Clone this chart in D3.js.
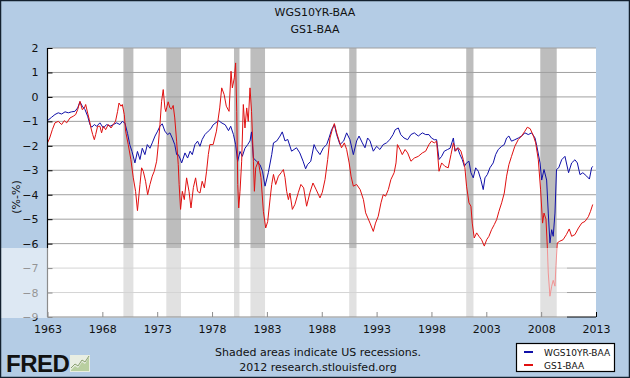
<!DOCTYPE html>
<html><head><meta charset="utf-8">
<script src="https://cdn.jsdelivr.net/npm/d3@7"></script>
<style>html,body{margin:0;padding:0;background:#fff}svg{display:block}</style>
</head><body>
<svg id="c" width="630" height="378"></svg>
<script>
const titleLines = ["WGS10YR-BAA", "GS1-BAA"];
const yTicks = [2, 1, 0, -1, -2, -3, -4, -5, -6, -7, -8, -9];
const xTicks = [1963, 1968, 1973, 1978, 1983, 1988, 1993, 1998, 2003, 2008, 2013];
const recStart = [1969.92, 1973.83, 1980.0, 1981.5, 1990.5, 2001.17, 2007.92];
const recEnd   = [1970.83, 1975.17, 1980.5, 1982.83, 1991.17, 2001.83, 2009.42];

const wgsYears = [1963.0,1963.38,1963.68,1963.98,1964.29,1964.6,1964.9,1965.2,1965.5,1965.75,1965.96,1966.17,1966.42,1966.66,1966.87,1967.03,1967.27,1967.48,1967.78,1968.09,1968.39,1968.7,1969.0,1969.3,1969.6,1969.82,1970.06,1970.3,1970.5,1970.7,1970.97,1971.2,1971.43,1971.64,1971.88,1972.1,1972.34,1972.55,1972.8,1973.04,1973.25,1973.46,1973.7,1973.95,1974.16,1974.37,1974.6,1974.77,1974.92,1975.07,1975.23,1975.38,1975.53,1975.77,1976.0,1976.2,1976.44,1976.68,1976.9,1977.1,1977.35,1977.66,1977.9,1978.1,1978.6,1978.9,1979.2,1979.5,1979.7,1979.95,1980.15,1980.33,1980.55,1980.76,1981.0,1981.25,1981.46,1981.6,1981.77,1982.07,1982.37,1982.6,1982.83,1983.13,1983.44,1983.6,1983.9,1984.2,1984.4,1984.65,1984.9,1985.25,1985.7,1986.0,1986.3,1986.53,1986.7,1987.0,1987.3,1987.5,1987.84,1988.15,1988.45,1988.66,1988.9,1989.15,1989.36,1989.66,1990.0,1990.27,1990.57,1990.88,1991.18,1991.4,1991.7,1991.94,1992.18,1992.4,1992.7,1993.0,1993.3,1993.6,1993.9,1994.2,1994.5,1994.7,1994.98,1995.2,1995.5,1995.83,1996.13,1996.44,1996.8,1997.17,1997.47,1997.77,1998.0,1998.26,1998.47,1998.69,1998.93,1999.17,1999.47,1999.7,2000.0,2000.14,2000.38,2000.6,2000.81,2001.0,2001.2,2001.42,2001.6,2001.81,2002.03,2002.27,2002.5,2002.72,2002.88,2003.1,2003.33,2003.63,2003.85,2004.09,2004.4,2004.64,2004.85,2005.06,2005.3,2005.6,2005.92,2006.22,2006.52,2006.83,2007.13,2007.44,2007.6,2007.9,2008.05,2008.26,2008.5,2008.65,2008.8,2008.96,2009.1,2009.26,2009.4,2009.6,2009.87,2010.17,2010.5,2010.78,2011.08,2011.3,2011.54,2011.8,2012.15,2012.4,2012.6,2012.7];
const wgsValues = [-0.97,-0.83,-0.72,-0.65,-0.7,-0.61,-0.65,-0.61,-0.59,-0.45,-0.2,-0.38,-0.52,-0.79,-1.13,-1.24,-1.13,-1.2,-1.06,-1.27,-1.13,-1.2,-1.13,-1.06,-1.13,-1.0,-1.07,-1.5,-1.95,-2.23,-2.7,-2.23,-2.56,-2.1,-2.36,-1.95,-2.1,-1.88,-1.6,-1.4,-1.2,-1.1,-1.4,-1.54,-1.47,-1.68,-1.95,-2.36,-2.36,-2.5,-2.7,-2.5,-2.29,-2.5,-2.22,-2.36,-1.95,-1.81,-2.02,-1.74,-1.54,-1.4,-1.3,-1.14,-0.97,-1.07,-1.14,-1.38,-1.2,-1.54,-1.95,-2.64,-2.23,-2.43,-2.1,-1.95,-1.8,-1.43,-2.5,-2.64,-2.77,-3.04,-3.65,-3.1,-2.36,-1.88,-1.8,-1.6,-1.43,-1.8,-1.74,-2.22,-2.08,-2.29,-2.63,-2.94,-2.77,-2.63,-1.95,-2.15,-2.36,-2.08,-1.95,-1.68,-1.34,-1.13,-1.54,-1.95,-1.8,-1.47,-1.75,-2.36,-1.8,-1.6,-1.88,-2.08,-1.68,-1.8,-2.22,-2.02,-2.15,-1.95,-1.88,-1.75,-1.54,-1.34,-1.27,-1.54,-1.68,-1.75,-1.54,-1.47,-1.6,-1.47,-1.54,-1.54,-1.68,-1.75,-1.75,-2.56,-2.43,-2.22,-2.15,-2.1,-1.68,-2.22,-2.08,-2.36,-2.56,-2.84,-2.7,-2.63,-3.1,-3.31,-2.9,-3.04,-3.38,-3.79,-3.31,-3.17,-2.9,-2.7,-2.36,-2.15,-2.02,-1.95,-1.68,-1.6,-1.81,-1.75,-1.68,-1.6,-1.47,-1.54,-1.47,-1.68,-2.0,-2.7,-3.4,-2.97,-3.4,-4.75,-5.97,-5.43,-5.7,-4.75,-2.97,-2.9,-2.57,-2.43,-3.1,-2.7,-2.57,-2.7,-3.18,-3.1,-3.24,-3.36,-2.9,-2.84];

const gsYears = [1963.0,1963.2,1963.44,1963.68,1963.98,1964.29,1964.53,1964.75,1965.05,1965.35,1965.57,1965.75,1965.96,1966.17,1966.36,1966.48,1966.66,1966.81,1966.96,1967.12,1967.27,1967.39,1967.57,1967.78,1967.93,1968.09,1968.3,1968.54,1968.79,1969.0,1969.2,1969.39,1969.52,1969.7,1969.82,1970.0,1970.12,1970.36,1970.6,1970.82,1971.03,1971.2,1971.43,1971.58,1971.73,1971.94,1972.13,1972.34,1972.55,1972.73,1972.95,1973.1,1973.25,1973.4,1973.55,1973.7,1973.78,1974.0,1974.16,1974.3,1974.46,1974.6,1974.77,1974.92,1975.0,1975.13,1975.29,1975.47,1975.68,1975.9,1976.08,1976.3,1976.5,1976.68,1976.9,1977.1,1977.3,1977.5,1977.66,1977.8,1978.1,1978.4,1978.7,1978.88,1979.1,1979.3,1979.55,1979.73,1979.85,1980.03,1980.15,1980.25,1980.34,1980.43,1980.55,1980.7,1980.85,1981.0,1981.16,1981.3,1981.46,1981.6,1981.77,1981.86,1981.98,1982.22,1982.46,1982.68,1982.89,1983.07,1983.3,1983.44,1983.6,1983.8,1984.05,1984.3,1984.5,1984.65,1984.8,1984.96,1985.1,1985.32,1985.55,1985.87,1986.1,1986.35,1986.62,1986.93,1987.2,1987.5,1987.84,1988.05,1988.3,1988.54,1988.75,1988.96,1989.15,1989.36,1989.55,1989.8,1990.06,1990.27,1990.5,1990.67,1990.88,1991.18,1991.5,1991.8,1992.0,1992.2,1992.4,1992.7,1992.9,1993.15,1993.4,1993.6,1993.82,1994.07,1994.3,1994.6,1994.77,1994.9,1995.13,1995.34,1995.6,1995.83,1996.13,1996.44,1996.8,1997.17,1997.47,1997.77,1998.0,1998.26,1998.47,1998.69,1998.93,1999.23,1999.53,1999.78,2000.0,2000.2,2000.45,2000.69,2000.9,2001.05,2001.2,2001.42,2001.6,2001.72,2001.9,2002.12,2002.33,2002.57,2002.82,2003.03,2003.24,2003.48,2003.73,2003.94,2004.15,2004.4,2004.64,2004.85,2005.06,2005.3,2005.6,2005.92,2006.22,2006.52,2006.74,2007.0,2007.3,2007.5,2007.74,2007.95,2008.13,2008.26,2008.44,2008.56,2008.65,2008.8,2008.96,2009.1,2009.26,2009.35,2009.47,2009.7,2010.0,2010.3,2010.56,2010.78,2011.08,2011.4,2011.7,2012.0,2012.3,2012.5,2012.7];
const gsValues = [-1.88,-1.68,-1.34,-1.06,-1.0,-1.13,-0.97,-1.06,-0.86,-0.79,-0.72,-0.52,-0.18,-0.52,-0.45,-0.31,-0.66,-0.93,-1.27,-1.54,-1.75,-1.54,-1.2,-1.2,-1.47,-1.2,-1.34,-1.13,-1.27,-1.13,-1.0,-0.59,-0.25,-0.38,-0.31,-0.72,-1.4,-1.95,-2.56,-3.31,-3.86,-4.65,-3.58,-2.9,-3.04,-3.45,-4.0,-3.58,-3.24,-3.04,-2.63,-1.95,-1.13,-0.18,0.3,-0.45,-0.6,-0.2,-0.45,-0.5,-0.35,-0.86,-1.81,-2.77,-3.58,-4.6,-3.86,-4.2,-3.31,-3.86,-4.54,-3.7,-3.31,-3.86,-3.93,-3.45,-3.72,-3.04,-2.36,-1.95,-1.95,-1.4,-0.45,0.37,0.1,-0.38,-0.59,1.05,0.37,0.78,1.39,-0.59,-3.58,-4.54,-3.86,-2.63,-0.31,-1.27,-0.45,-1.0,0.37,-0.59,-2.63,-3.86,-2.9,-2.63,-3.3,-4.68,-5.36,-5.1,-4.13,-3.58,-3.17,-3.58,-3.24,-3.1,-2.97,-3.3,-3.86,-4.2,-3.93,-4.6,-4.4,-3.9,-3.58,-3.72,-4.47,-3.9,-3.52,-3.8,-4.13,-3.9,-3.38,-2.56,-1.68,-1.34,-1.09,-1.47,-1.75,-2.08,-1.88,-2.15,-2.7,-3.24,-3.65,-3.58,-3.79,-4.2,-4.74,-4.95,-5.16,-5.5,-5.16,-4.88,-4.33,-4.0,-4.06,-3.79,-3.38,-3.1,-2.7,-1.95,-2.15,-2.36,-2.15,-2.29,-2.63,-2.5,-2.43,-2.29,-2.22,-1.95,-1.81,-1.88,-1.81,-3.04,-2.7,-2.84,-2.9,-2.36,-1.88,-2.22,-2.08,-2.22,-2.56,-2.9,-3.65,-4.33,-4.47,-5.16,-5.77,-5.56,-5.7,-5.84,-6.1,-5.84,-5.7,-5.43,-5.22,-5.02,-4.68,-4.33,-3.93,-3.24,-2.77,-2.43,-2.02,-1.74,-1.6,-1.4,-1.24,-1.3,-1.6,-1.88,-2.57,-3.8,-5.16,-4.75,-5.0,-6.1,-7.2,-8.15,-7.74,-7.5,-7.74,-6.9,-5.97,-5.9,-5.84,-5.63,-5.4,-5.7,-5.63,-5.36,-5.16,-5.09,-4.9,-4.68,-4.4];

const seriesNames = ["WGS10YR-BAA", "GS1-BAA"];
const seriesColors = ["#1010a8", "#e01010"];
const footnote = ["Shaded areas indicate US recessions.", "2012 research.stlouisfed.org"];

const svg = d3.select("#c");
const W = 630, H = 378;
const FONT = "DejaVu Sans, Verdana, sans-serif";
const L = 47.5, R = 596, T = 48, B = 317;

svg.append("rect").attr("width", W).attr("height", H).attr("fill", "#b4cce5");

const x = d3.scaleLinear().domain([1963, 2013]).range([L, R]);
const y = d3.scaleLinear().domain([-9, 2]).range([B, T]);

svg.append("rect").attr("x", L).attr("y", T).attr("width", R - L).attr("height", B - T).attr("fill", "#fff");

// recession bands
svg.append("g").selectAll("rect").data(recStart).join("rect")
  .attr("x", (d) => x(d)).attr("y", T)
  .attr("width", (d, i) => x(recEnd[i]) - x(d)).attr("height", B - T)
  .attr("fill", "#bdbdbd");

// gridlines
svg.append("g").selectAll("line").data(yTicks.filter(v => v > -9)).join("line")
  .attr("x1", L).attr("x2", R).attr("y1", d => y(d)).attr("y2", d => y(d))
  .attr("stroke", "#a0a0a0").attr("stroke-width", 1);

// lines
const line = (yrs) => d3.line().x((d, i) => x(yrs[i])).y(d => y(d));
svg.append("path").datum(wgsValues).attr("d", line(wgsYears))
  .attr("fill", "none").attr("stroke", seriesColors[0]).attr("stroke-width", 1);
svg.append("path").datum(gsValues).attr("d", line(gsYears))
  .attr("fill", "none").attr("stroke", seriesColors[1]).attr("stroke-width", 1);

// axes
const yAxis = d3.axisLeft(y).tickValues(yTicks).tickSize(-5).tickPadding(9);
const gy = svg.append("g").attr("transform", `translate(${L},0)`).call(yAxis);
const xAxis = d3.axisBottom(x).tickValues(xTicks).tickFormat(d3.format("d")).tickSize(-5).tickPadding(8);
const gx = svg.append("g").attr("transform", `translate(0,${B})`).call(xAxis);
[gy, gx].forEach(g => {
  g.select(".domain").attr("stroke", "#000").attr("stroke-width", 1.2);
  g.selectAll(".tick line").attr("stroke", "#000");
  g.selectAll("text").attr("font-family", FONT).attr("font-size", 11).attr("fill", "#111");
});
gy.select(".domain").attr("d", `M0,${B}V${T}`);
gx.select(".domain").attr("d", `M${L},0H${R}`);

// y label
svg.append("text").attr("transform", "translate(20,197) rotate(-90)")
  .attr("text-anchor", "middle").attr("font-family", FONT).attr("font-size", 11).attr("fill", "#111").text("(%-%)");

// titles
svg.selectAll(".ttl").data(titleLines).join("text").attr("class", "ttl")
  .attr("x", 315).attr("y", (d, i) => 16 + i * 17).attr("text-anchor", "middle")
  .attr("font-family", FONT).attr("font-size", 11).attr("fill", "#111").text(d => d);

// watermark band
svg.append("rect").attr("x", 0).attr("y", 248).attr("width", 567).attr("height", 70)
  .attr("fill", "#fff").attr("opacity", 0.55);

// footnote
svg.selectAll(".fn").data(footnote).join("text").attr("class", "fn")
  .attr("x", 318).attr("y", (d, i) => 356 + i * 15).attr("text-anchor", "middle")
  .attr("font-family", FONT).attr("font-size", 11).attr("fill", "#111").text(d => d);

// legend
const lg = svg.append("g");
lg.append("rect").attr("x", 516.5).attr("y", 343.5).attr("width", 98).attr("height", 28)
  .attr("fill", "#fff").attr("stroke", "#000").attr("stroke-width", 1.2);
seriesNames.forEach((n, i) => {
  lg.append("line").attr("x1", 524).attr("x2", 533).attr("y1", 352 + i * 13).attr("y2", 352 + i * 13)
    .attr("stroke", seriesColors[i]).attr("stroke-width", 2);
  lg.append("text").attr("x", 544).attr("y", 356 + i * 13).attr("font-family", FONT)
    .attr("font-size", 9).attr("fill", "#111").text(n);
});

// FRED logo
svg.append("text").attr("x", 6).attr("y", 372).attr("font-family", "Liberation Sans, Arial, sans-serif")
  .attr("font-weight", "bold").attr("font-size", 24).attr("letter-spacing", -0.5).attr("fill", "#111").text("FRED");
const ic = svg.append("g");
ic.append("rect").attr("x", 70).attr("y", 355).attr("width", 20).attr("height", 17).attr("fill", "#e9eee2");
ic.append("path").attr("d", "M71,370 L75,366 L78,368 L82,362 L85,364 L89,357 L89,371 L71,371 Z").attr("fill", "#b9cfa0");
ic.append("path").attr("d", "M71,368 L75,364 L78,366 L82,360 L85,362 L89,356").attr("fill", "none").attr("stroke", "#8aa070").attr("stroke-width", 1);

// outer frame
svg.append("rect").attr("x", 0.5).attr("y", 0.5).attr("width", W - 1).attr("height", H - 1)
  .attr("fill", "none").attr("stroke", "#13202e").attr("stroke-width", 1.5);
</script>
</body></html>
